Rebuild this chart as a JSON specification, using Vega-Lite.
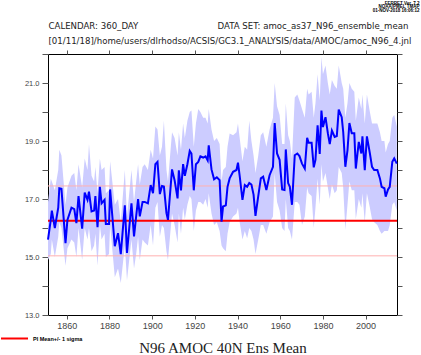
{
  "$schema": "https://vega.github.io/schema/vega-lite/v6.json",
  "width": 349,
  "height": 261,
  "autosize": {"type": "none"},
  "padding": {"left": 48, "top": 54, "right": 24, "bottom": 40},
  "background": "white",
  "config": {
    "view": {"stroke": "#000000", "strokeWidth": 1},
    "axis": {"domain": false, "grid": false, "tickColor": "#555555", "labelColor": "#444444", "labelFont": "Liberation Sans", "titleFontWeight": "normal"}
  },
  "data": {
    "values": [
      {"year": 1851.2, "v": 15.6, "hi": 16.9, "lo": 14.9},
      {"year": 1852.5, "v": 16.28, "hi": 17.7, "lo": 15.1},
      {"year": 1853, "v": 16.6, "hi": 17.6, "lo": 15.6},
      {"year": 1854.4, "v": 16.0, "hi": 17.3, "lo": 15.0},
      {"year": 1856, "v": 16.7, "hi": 18.0, "lo": 15.7},
      {"year": 1856.5, "v": 17.37, "hi": 18.7, "lo": 16.2},
      {"year": 1857.5, "v": 17.35, "hi": 18.5, "lo": 16.0},
      {"year": 1859.4, "v": 15.48, "hi": 16.8, "lo": 14.7},
      {"year": 1860.3, "v": 16.28, "hi": 17.4, "lo": 15.3},
      {"year": 1862.2, "v": 16.7, "hi": 17.8, "lo": 15.6},
      {"year": 1863.5, "v": 16.65, "hi": 17.9, "lo": 15.5},
      {"year": 1864.5, "v": 16.17, "hi": 17.3, "lo": 15.0},
      {"year": 1865.5, "v": 17.1, "hi": 18.2, "lo": 16.0},
      {"year": 1867.2, "v": 15.98, "hi": 17.4, "lo": 14.9},
      {"year": 1868.4, "v": 17.22, "hi": 18.4, "lo": 16.0},
      {"year": 1869.7, "v": 16.97, "hi": 18.0, "lo": 15.6},
      {"year": 1870.4, "v": 17.25, "hi": 18.9, "lo": 16.0},
      {"year": 1871.6, "v": 16.57, "hi": 17.8, "lo": 15.2},
      {"year": 1872.8, "v": 16.6, "hi": 17.6, "lo": 15.4},
      {"year": 1873.4, "v": 17.1, "hi": 18.1, "lo": 15.8},
      {"year": 1874.4, "v": 16.03, "hi": 17.2, "lo": 14.7},
      {"year": 1875.5, "v": 17.42, "hi": 18.4, "lo": 16.1},
      {"year": 1876.3, "v": 16.85, "hi": 18.0, "lo": 15.6},
      {"year": 1877.7, "v": 16.97, "hi": 18.1, "lo": 15.8},
      {"year": 1878.3, "v": 16.14, "hi": 17.2, "lo": 15.0},
      {"year": 1879.8, "v": 16.14, "hi": 17.3, "lo": 15.1},
      {"year": 1880.3, "v": 17.33, "hi": 18.3, "lo": 16.1},
      {"year": 1882.5, "v": 15.37, "hi": 16.8, "lo": 14.3},
      {"year": 1884, "v": 15.82, "hi": 17.0, "lo": 14.6},
      {"year": 1885.3, "v": 15.1, "hi": 16.2, "lo": 14.1},
      {"year": 1887.2, "v": 16.78, "hi": 18.0, "lo": 15.4},
      {"year": 1888.2, "v": 15.14, "hi": 16.4, "lo": 14.2},
      {"year": 1890.3, "v": 16.85, "hi": 18.0, "lo": 15.6},
      {"year": 1891.5, "v": 15.71, "hi": 16.9, "lo": 14.6},
      {"year": 1892.5, "v": 16.4, "hi": 17.6, "lo": 15.1},
      {"year": 1893.4, "v": 17.0, "hi": 18.2, "lo": 15.7},
      {"year": 1894.2, "v": 16.4, "hi": 17.5, "lo": 14.9},
      {"year": 1895.5, "v": 16.9, "hi": 18.1, "lo": 15.6},
      {"year": 1896.5, "v": 16.9, "hi": 18.2, "lo": 15.5},
      {"year": 1898, "v": 16.85, "hi": 18.0, "lo": 15.4},
      {"year": 1899.3, "v": 17.48, "hi": 18.7, "lo": 16.1},
      {"year": 1900.4, "v": 17.2, "hi": 18.4, "lo": 15.4},
      {"year": 1901.5, "v": 18.2, "hi": 19.5, "lo": 16.7},
      {"year": 1902.5, "v": 18.28, "hi": 19.4, "lo": 16.9},
      {"year": 1903.6, "v": 17.17, "hi": 18.5, "lo": 15.7},
      {"year": 1904.6, "v": 17.45, "hi": 18.8, "lo": 16.1},
      {"year": 1905.5, "v": 17.43, "hi": 19.7, "lo": 16.0},
      {"year": 1906.7, "v": 16.51, "hi": 18.0, "lo": 15.2},
      {"year": 1907.4, "v": 16.28, "hi": 17.6, "lo": 14.9},
      {"year": 1909.3, "v": 18.02, "hi": 19.3, "lo": 16.5},
      {"year": 1910.5, "v": 17.65, "hi": 19.1, "lo": 16.1},
      {"year": 1911.9, "v": 17.02, "hi": 18.5, "lo": 15.5},
      {"year": 1912.5, "v": 17.99, "hi": 19.3, "lo": 16.5},
      {"year": 1913.5, "v": 17.3, "hi": 18.7, "lo": 15.8},
      {"year": 1914.5, "v": 18.2, "hi": 19.6, "lo": 16.7},
      {"year": 1915.3, "v": 17.8, "hi": 19.1, "lo": 16.3},
      {"year": 1916.5, "v": 18.2, "hi": 19.7, "lo": 16.8},
      {"year": 1917.6, "v": 18.66, "hi": 20.0, "lo": 17.1},
      {"year": 1918.4, "v": 18.57, "hi": 20.05, "lo": 17.0},
      {"year": 1919.5, "v": 17.3, "hi": 18.8, "lo": 15.9},
      {"year": 1920.5, "v": 18.2, "hi": 19.6, "lo": 16.6},
      {"year": 1921.6, "v": 18.28, "hi": 20.1, "lo": 16.9},
      {"year": 1922.6, "v": 18.47, "hi": 20.0, "lo": 16.9},
      {"year": 1923.9, "v": 18.43, "hi": 19.8, "lo": 16.8},
      {"year": 1925, "v": 18.47, "hi": 19.8, "lo": 17.0},
      {"year": 1926, "v": 18.33, "hi": 19.6, "lo": 16.7},
      {"year": 1926.5, "v": 18.85, "hi": 20.1, "lo": 17.2},
      {"year": 1927.8, "v": 18.02, "hi": 19.4, "lo": 16.5},
      {"year": 1929, "v": 17.68, "hi": 19.0, "lo": 16.1},
      {"year": 1930.3, "v": 17.75, "hi": 19.1, "lo": 16.2},
      {"year": 1931.6, "v": 17.65, "hi": 18.9, "lo": 15.9},
      {"year": 1932.5, "v": 16.22, "hi": 17.6, "lo": 15.4},
      {"year": 1933.2, "v": 16.74, "hi": 18.0, "lo": 15.3},
      {"year": 1934.5, "v": 16.78, "hi": 18.1, "lo": 15.2},
      {"year": 1935.3, "v": 17.42, "hi": 18.8, "lo": 15.8},
      {"year": 1936.3, "v": 17.71, "hi": 19.26, "lo": 16.2},
      {"year": 1937.9, "v": 17.94, "hi": 19.2, "lo": 16.4},
      {"year": 1939.5, "v": 18.0, "hi": 19.3, "lo": 16.5},
      {"year": 1940.2, "v": 18.25, "hi": 19.6, "lo": 16.7},
      {"year": 1941, "v": 17.8, "hi": 19.1, "lo": 16.2},
      {"year": 1942.3, "v": 16.97, "hi": 18.3, "lo": 15.6},
      {"year": 1943.4, "v": 17.48, "hi": 18.8, "lo": 15.9},
      {"year": 1944.5, "v": 17.42, "hi": 18.7, "lo": 15.65},
      {"year": 1945.5, "v": 17.55, "hi": 19.7, "lo": 16.0},
      {"year": 1946.5, "v": 17.5, "hi": 19.0, "lo": 15.9},
      {"year": 1947.5, "v": 17.15, "hi": 18.5, "lo": 15.6},
      {"year": 1948.4, "v": 16.42, "hi": 17.9, "lo": 15.1},
      {"year": 1949.7, "v": 17.1, "hi": 18.5, "lo": 15.6},
      {"year": 1950.9, "v": 17.71, "hi": 19.2, "lo": 16.1},
      {"year": 1952, "v": 17.77, "hi": 19.3, "lo": 16.1},
      {"year": 1953.5, "v": 17.31, "hi": 18.8, "lo": 15.8},
      {"year": 1955, "v": 17.82, "hi": 19.4, "lo": 16.2},
      {"year": 1956.6, "v": 18.11, "hi": 19.8, "lo": 16.4},
      {"year": 1957.4, "v": 19.62, "hi": 21.0, "lo": 17.9},
      {"year": 1958.5, "v": 18.57, "hi": 20.2, "lo": 16.9},
      {"year": 1959.7, "v": 18.35, "hi": 19.9, "lo": 16.6},
      {"year": 1960.9, "v": 17.33, "hi": 18.9, "lo": 16.0},
      {"year": 1962, "v": 17.31, "hi": 18.9, "lo": 15.9},
      {"year": 1962.6, "v": 18.71, "hi": 20.3, "lo": 17.0},
      {"year": 1963.7, "v": 17.55, "hi": 19.2, "lo": 16.0},
      {"year": 1964.5, "v": 17.42, "hi": 19.0, "lo": 15.9},
      {"year": 1965.5, "v": 16.8, "hi": 18.4, "lo": 15.6},
      {"year": 1966.8, "v": 18.51, "hi": 20.5, "lo": 16.9},
      {"year": 1968, "v": 18.57, "hi": 20.6, "lo": 16.9},
      {"year": 1969, "v": 18.48, "hi": 20.4, "lo": 16.8},
      {"year": 1970.2, "v": 18.22, "hi": 20.1, "lo": 16.1},
      {"year": 1971.5, "v": 18.05, "hi": 19.8, "lo": 16.4},
      {"year": 1972.6, "v": 19.11, "hi": 20.8, "lo": 17.4},
      {"year": 1973.3, "v": 18.94, "hi": 20.6, "lo": 17.2},
      {"year": 1974.7, "v": 18.94, "hi": 20.7, "lo": 17.1},
      {"year": 1975.7, "v": 18.09, "hi": 19.8, "lo": 16.0},
      {"year": 1976.5, "v": 18.35, "hi": 20.3, "lo": 16.7},
      {"year": 1977.5, "v": 19.54, "hi": 21.3, "lo": 17.7},
      {"year": 1978.5, "v": 18.55, "hi": 20.4, "lo": 16.8},
      {"year": 1979.3, "v": 20.05, "hi": 21.9, "lo": 18.2},
      {"year": 1980, "v": 19.48, "hi": 21.3, "lo": 17.6},
      {"year": 1981.2, "v": 19.82, "hi": 21.6, "lo": 17.9},
      {"year": 1982.3, "v": 19.27, "hi": 21.0, "lo": 17.4},
      {"year": 1983.2, "v": 18.89, "hi": 20.6, "lo": 17.0},
      {"year": 1984.2, "v": 19.36, "hi": 21.1, "lo": 17.5},
      {"year": 1985.5, "v": 19.14, "hi": 20.9, "lo": 17.2},
      {"year": 1986.5, "v": 19.17, "hi": 20.8, "lo": 17.3},
      {"year": 1987.4, "v": 20.08, "hi": 21.6, "lo": 18.1},
      {"year": 1988.8, "v": 19.82, "hi": 21.0, "lo": 17.9},
      {"year": 1989.5, "v": 19.31, "hi": 20.8, "lo": 17.4},
      {"year": 1990.5, "v": 18.11, "hi": 19.8, "lo": 15.94},
      {"year": 1991.5, "v": 18.68, "hi": 20.3, "lo": 16.8},
      {"year": 1992.4, "v": 19.62, "hi": 21.0, "lo": 17.6},
      {"year": 1993.5, "v": 19.27, "hi": 20.8, "lo": 17.3},
      {"year": 1994.7, "v": 19.27, "hi": 20.7, "lo": 17.3},
      {"year": 1995.4, "v": 18.05, "hi": 19.7, "lo": 16.3},
      {"year": 1996.8, "v": 18.97, "hi": 20.5, "lo": 17.0},
      {"year": 1998, "v": 18.57, "hi": 20.1, "lo": 16.7},
      {"year": 1998.5, "v": 19.16, "hi": 20.6, "lo": 17.2},
      {"year": 1999.6, "v": 17.99, "hi": 19.6, "lo": 16.2},
      {"year": 2000.6, "v": 19.16, "hi": 20.6, "lo": 17.2},
      {"year": 2002, "v": 18.57, "hi": 20.0, "lo": 16.7},
      {"year": 2003, "v": 18.11, "hi": 19.6, "lo": 16.3},
      {"year": 2004, "v": 18.0, "hi": 19.6, "lo": 16.2},
      {"year": 2005.5, "v": 18.0, "hi": 19.6, "lo": 16.1},
      {"year": 2006.7, "v": 17.71, "hi": 19.3, "lo": 15.9},
      {"year": 2007.5, "v": 17.42, "hi": 19.0, "lo": 15.8},
      {"year": 2008.8, "v": 17.37, "hi": 19.0, "lo": 15.9},
      {"year": 2009.4, "v": 17.08, "hi": 18.6, "lo": 15.9},
      {"year": 2010.5, "v": 17.33, "hi": 18.9, "lo": 15.9},
      {"year": 2011.3, "v": 17.42, "hi": 19.0, "lo": 16.1},
      {"year": 2012.5, "v": 18.28, "hi": 19.8, "lo": 16.8},
      {"year": 2013.4, "v": 18.4, "hi": 19.9, "lo": 16.9},
      {"year": 2014.6, "v": 18.22, "hi": 19.5, "lo": 16.6}
    ]
  },
  "layer": [
    {
      "mark": {"type": "area", "color": "#ccccff", "opacity": 1},
      "encoding": {
        "x": {
          "field": "year", "type": "quantitative",
          "scale": {"domain": [1851.2, 2014.7], "nice": false, "zero": false},
          "axis": {
            "orient": "bottom", "values": [1860, 1880, 1900, 1920, 1940, 1960, 1980, 2000], "format": "d",
            "labelFontSize": 9, "tickSize": 4, "labelPadding": 2,
            "title": "N96 AMOC 40N Ens Mean", "titleFont": "Liberation Serif", "titleFontSize": 15,
            "titleColor": "#222222", "titleBaseline": "alphabetic", "titleY": 37
          }
        },
        "y": {
          "field": "lo", "type": "quantitative",
          "scale": {"domain": [13, 22], "nice": false, "zero": false},
          "axis": {
            "orient": "left", "values": [13, 14, 15, 16, 17, 18, 19, 20, 21, 22],
            "labelExpr": "datum.value % 2 == 1 ? format(datum.value, '.1f') : ''",
            "labelFontSize": 7.5, "tickSize": 6, "labelPadding": 3,
            "title": ["CALENDAR: 360_DAY", "[01/11/18]/home/users/dlrhodso/ACSIS/GC3.1_ANALYSIS/data/AMOC/amoc_N96_4.jnl"],
            "titleAngle": 0, "titleAlign": "left", "titleBaseline": "alphabetic",
            "titleX": 0, "titleY": -26, "titleFont": "DejaVu Sans", "titleFontSize": 8.6,
            "titleColor": "#222222", "titleLineHeight": 15
          }
        },
        "y2": {"field": "hi"}
      }
    },
    {
      "data": {"values": [{"s": 15.04}, {"s": 17.45}]},
      "mark": {"type": "rule", "color": "#ffb0b0", "strokeWidth": 1},
      "encoding": {"y": {"field": "s", "type": "quantitative", "axis": null}}
    },
    {
      "data": {"values": [{"s": 16.25, "k": "PI Mean+/- 1 sigma"}]},
      "mark": {"type": "rule", "strokeWidth": 2.2},
      "encoding": {
        "y": {"field": "s", "type": "quantitative", "axis": null},
        "color": {
          "field": "k", "type": "nominal",
          "scale": {"range": ["#ff0000"]},
          "legend": {
            "orient": "none", "legendX": -48, "legendY": 270, "title": null, "padding": 0,
            "symbolType": "stroke", "symbolSize": 729, "symbolStrokeWidth": 2,
            "labelFontSize": 5.5, "labelFont": "Liberation Sans", "labelFontWeight": "bold",
            "labelColor": "#000000", "labelOffset": 4
          }
        }
      }
    },
    {
      "mark": {"type": "line", "color": "#0000ff", "strokeWidth": 2},
      "encoding": {
        "x": {
          "field": "year", "type": "quantitative",
          "scale": {"domain": [1851.2, 2014.7], "nice": false, "zero": false},
          "axis": {
            "orient": "top", "values": [1860, 1880, 1900, 1920, 1940, 1960, 1980, 2000],
            "labels": false, "tickSize": 4,
            "title": "DATA SET: amoc_as37_N96_ensemble_mean",
            "titleAngle": 0, "titleAlign": "left", "titleBaseline": "alphabetic",
            "titleX": 169, "titleY": -26, "titleFont": "DejaVu Sans", "titleFontSize": 8.6, "titleColor": "#222222"
          }
        },
        "y": {
          "field": "v", "type": "quantitative",
          "scale": {"domain": [13, 22], "nice": false, "zero": false},
          "axis": {
            "orient": "right", "values": [13, 14, 15, 16, 17, 18, 19, 20, 21, 22],
            "labels": false, "tickSize": 5,
            "title": ["FERRET Ver. 7.2", "NOAA/PMEL TMAP", "01-NOV-2018 16:06:12"],
            "titleAngle": 0, "titleAlign": "right", "titleBaseline": "alphabetic",
            "titleX": 22, "titleY": -50, "titleFont": "Liberation Sans", "titleFontSize": 4.5,
            "titleFontWeight": "bold", "titleColor": "#000000", "titleLineHeight": 3.6
          }
        }
      }
    }
  ],
  "resolve": {"axis": {"x": "independent", "y": "independent"}}
}
